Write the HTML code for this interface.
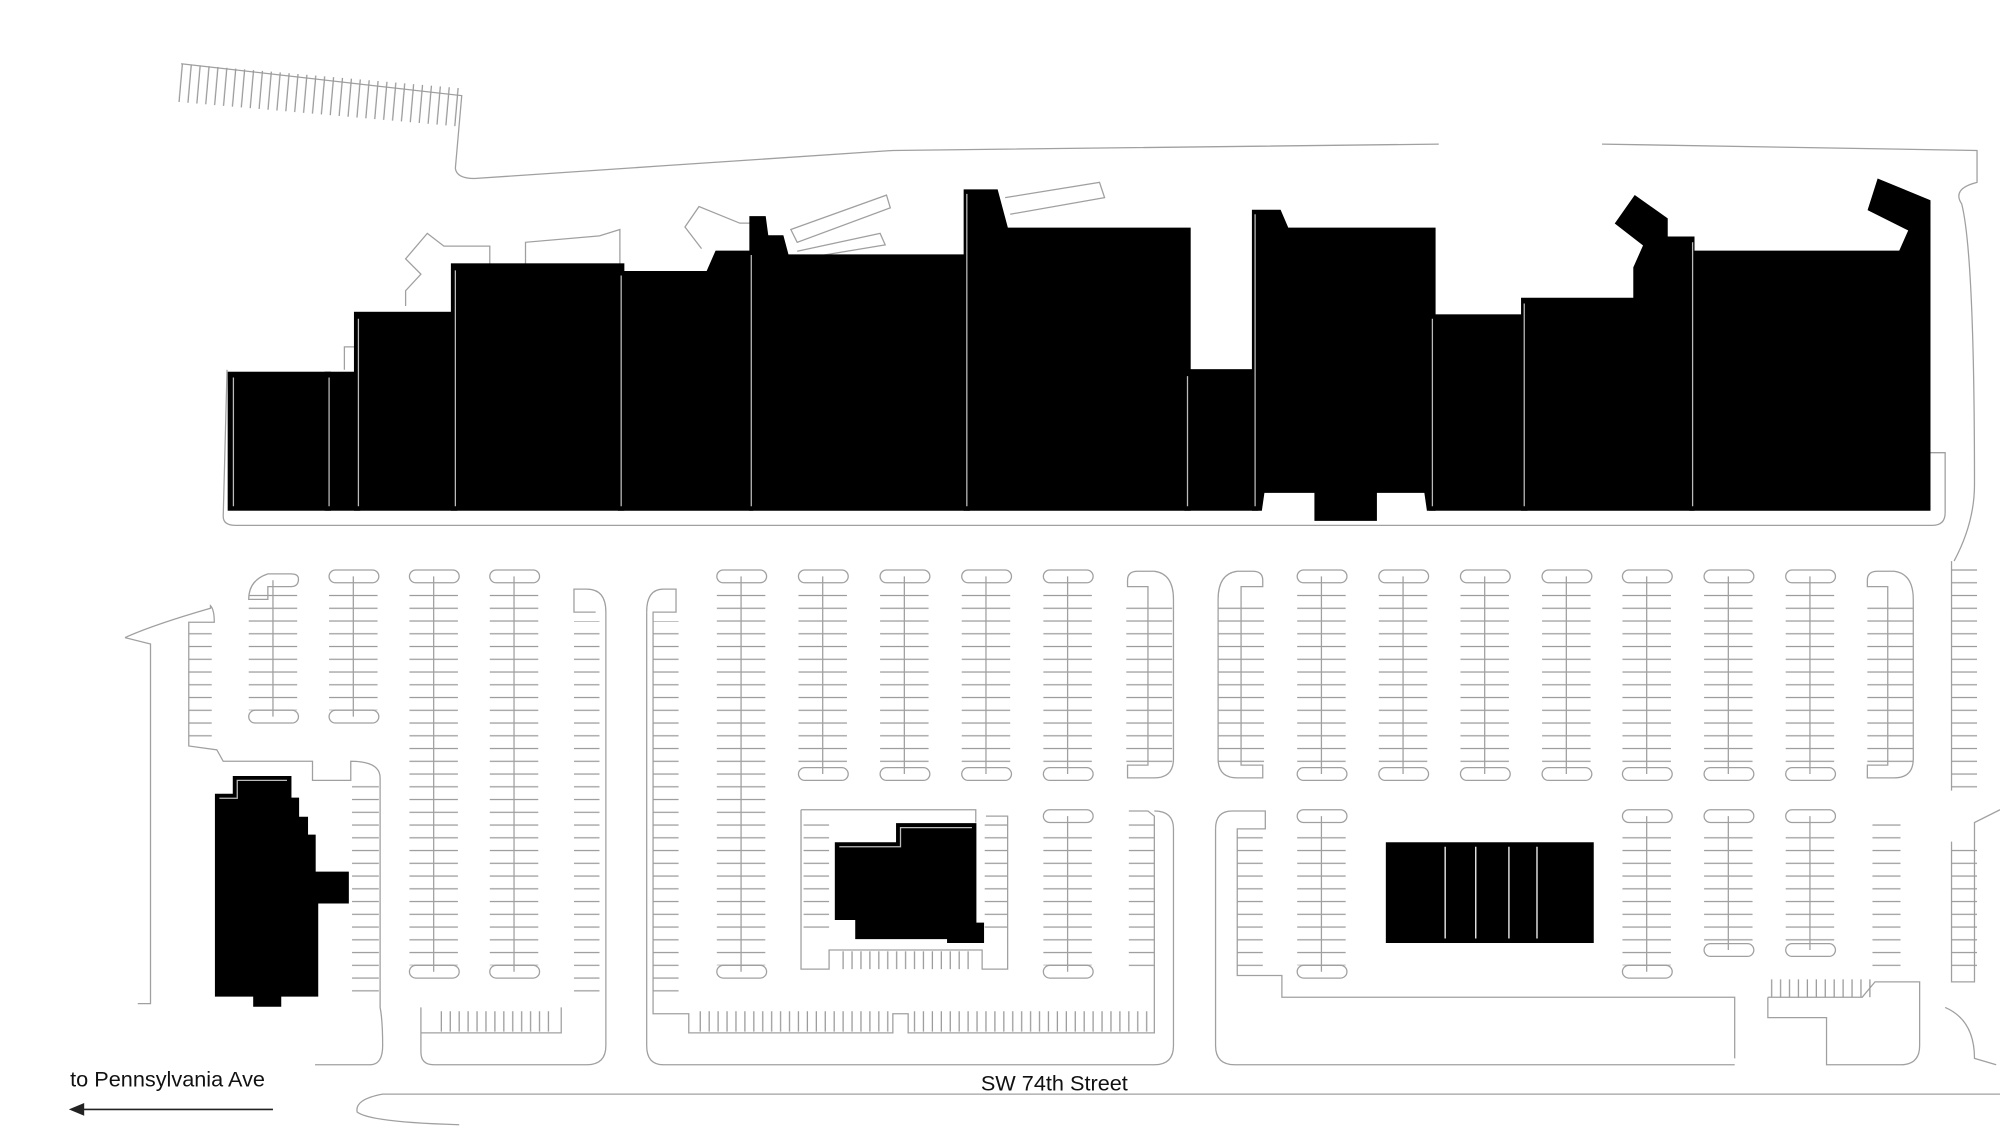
<!DOCTYPE html>
<html><head><meta charset="utf-8"><style>
html,body{margin:0;padding:0;background:#fff;}
svg{display:block;}
text{font-family:"Liberation Sans",sans-serif;fill:#111;}
</style></head><body>
<svg width="2000" height="1126" viewBox="0 0 1568 883" preserveAspectRatio="none" xmlns="http://www.w3.org/2000/svg">
<defs>
<pattern id="tk" patternUnits="userSpaceOnUse" width="100" height="10" y="2">
<line x1="0" y1="5" x2="100" y2="5" stroke="#9a9a9a" stroke-width="1"/>
</pattern>
<pattern id="tkv" patternUnits="userSpaceOnUse" width="7" height="100">
<line x1="3" y1="0" x2="3" y2="100" stroke="#9a9a9a" stroke-width="1"/>
</pattern>
</defs>
<g fill="none" stroke="#a0a0a0" stroke-width="1">
<path d="M142 50 L362 75 L357 132 Q358 140 372 140 L520 130 L700 118 L1128 113"/>
<path d="M1256 113 L1550 118 L1550 143 Q1530 148 1538 160 Q1548 200 1548 380 Q1548 410 1532 440"/>
<path d="M178 290 L175 405 Q175 412 185 412 L1515 412 Q1525 412 1525 402 L1525 355 L1510 355"/>
<path d="M318 240 L318 228 L330 215 L318 203 L335 183 L348 193 L384 193 L384 210"/>
<path d="M412 210 L412 190 L470 185 L486 180 L486 210"/>
<path d="M550 195 L537 178 L548 162 L580 175 L590 175"/>
<path d="M620 180 L695 153 L698 163 L625 190 Z"/>
<path d="M625 197 L690 183 L694 192 L628 203"/>
<path d="M788 155 L862 143 L866 155 L792 168"/>
<path d="M270 290 L270 272 L278 272"/>
<path d="M98 500 Q120 490 165 477 L165 475 Q168 478 168 488 L148 488 L148 585 L170 588 L175 597 L245 597 L245 612 L275 612 L275 597 Q298 597 298 610 L298 790 Q300 800 300 820 Q300 835 290 835 L247 835"/>
<path d="M98 500 L118 505 L118 787 L108 787"/>
<path d="M330 790 L330 825 Q330 835 340 835 L460 835 Q475 835 475 820 L475 480 Q475 462 460 462 L450 462 L450 480 L467 480"/>
<path d="M440 790 L440 810 L330 810"/>
<path d="M507 480 Q507 462 520 462 L530 462 L530 480 L512 480 L512 795 L540 795 L540 810 L700 810 L700 795 L712 795 L712 810 L905 810 L905 640 L900 636 L885 636"/>
<path d="M507 480 L507 820 Q507 835 520 835 L905 835 Q920 835 920 820 L920 650 Q920 636 905 636"/>
<path d="M628 635 L765 635 L765 645 M628 635 L628 760 L650 760 L650 745 L770 745 L770 760 L790 760 L790 640 L773 640"/>
<path d="M953 650 Q953 636 966 636 L992 636 L992 650 L970 650 L970 765 L1005 765 L1005 782 L1360 782 L1360 830"/>
<path d="M953 650 L953 820 Q953 835 968 835 L1360 835"/>
<path d="M1386 782 L1386 798 L1432 798 L1432 835 L1490 835 Q1505 835 1505 820 L1505 770 L1470 770 L1460 782 L1386 782"/>
<path d="M1525 790 Q1548 800 1548 830 L1565 835"/>
<path d="M1568 635 L1548 645 L1548 770 L1530 770 L1530 660"/>
<path d="M1568 858 L300 858 Q278 862 280 872 Q290 880 360 882"/>
<path d="M1530 440 L1530 620"/>
</g>
<g stroke="none">
<rect x="142" y="50" width="220" height="30" fill="url(#tkv)" transform="rotate(5 142 50)"/>
<rect x="148" y="492" width="18" height="86" fill="url(#tk)"/>
<rect x="276" y="612" width="21" height="170" fill="url(#tk)"/>
<rect x="450" y="487" width="20" height="295" fill="url(#tk)"/>
<rect x="512" y="487" width="20" height="295" fill="url(#tk)"/>
<rect x="345" y="793" width="90" height="16" fill="url(#tkv)"/>
<rect x="545" y="793" width="155" height="16" fill="url(#tkv)"/>
<rect x="716" y="793" width="185" height="16" fill="url(#tkv)"/>
<rect x="655" y="746" width="110" height="14" fill="url(#tkv)"/>
<rect x="885" y="645" width="20" height="120" fill="url(#tk)"/>
<rect x="772" y="645" width="18" height="90" fill="url(#tk)"/>
<rect x="630" y="645" width="20" height="90" fill="url(#tk)"/>
<rect x="970" y="650" width="20" height="115" fill="url(#tk)"/>
<rect x="1530" y="445" width="20" height="175" fill="url(#tk)"/>
<rect x="1530" y="665" width="20" height="100" fill="url(#tk)"/>
<rect x="1468" y="645" width="22" height="120" fill="url(#tk)"/>
<rect x="1388" y="768" width="80" height="14" fill="url(#tkv)"/>
<rect x="883" y="475" width="36" height="125" fill="url(#tk)"/>
<rect x="955" y="475" width="36" height="125" fill="url(#tk)"/>
<rect x="1464" y="475" width="36" height="125" fill="url(#tk)"/>
<rect x="195" y="462" width="38" height="95" fill="url(#tk)"/>
<rect x="258" y="462" width="38" height="95" fill="url(#tk)"/>
<rect x="321" y="462" width="38" height="295" fill="url(#tk)"/>
<rect x="384" y="462" width="38" height="295" fill="url(#tk)"/>
<rect x="562" y="462" width="38" height="295" fill="url(#tk)"/>
<rect x="626" y="462" width="38" height="140" fill="url(#tk)"/>
<rect x="690" y="462" width="38" height="140" fill="url(#tk)"/>
<rect x="754" y="462" width="38" height="140" fill="url(#tk)"/>
<rect x="818" y="462" width="38" height="140" fill="url(#tk)"/>
<rect x="1017" y="462" width="38" height="140" fill="url(#tk)"/>
<rect x="1081" y="462" width="38" height="140" fill="url(#tk)"/>
<rect x="1145" y="462" width="38" height="140" fill="url(#tk)"/>
<rect x="1209" y="462" width="38" height="140" fill="url(#tk)"/>
<rect x="1272" y="462" width="38" height="140" fill="url(#tk)"/>
<rect x="1336" y="462" width="38" height="140" fill="url(#tk)"/>
<rect x="1400" y="462" width="38" height="140" fill="url(#tk)"/>
<rect x="818" y="650" width="38" height="107" fill="url(#tk)"/>
<rect x="1017" y="650" width="38" height="107" fill="url(#tk)"/>
<rect x="1272" y="650" width="38" height="107" fill="url(#tk)"/>
<rect x="1336" y="650" width="38" height="90" fill="url(#tk)"/>
<rect x="1400" y="650" width="38" height="90" fill="url(#tk)"/>
</g>
<g fill="none" stroke="#a0a0a0">
<path d="M884 455 Q884 448 892 448 L905 448 Q920 450 920 470 L920 595 Q920 610 905 610 L884 610 L884 600 L900 600 L900 460 L884 460 Z"/>
<path d="M990 455 Q990 448 982 448 L970 448 Q955 450 955 470 L955 595 Q955 610 970 610 L990 610 L990 600 L973 600 L973 460 L990 460 Z"/>
<path d="M1464 455 Q1464 448 1472 448 L1485 448 Q1500 450 1500 470 L1500 595 Q1500 610 1485 610 L1464 610 L1464 600 L1480 600 L1480 460 L1464 460 Z"/>
<path d="M195 470 Q195 455 210 450 L228 450 Q234 450 234 454 Q234 460 228 460 L210 460 L210 470 Z"/>
<path d="M214 455 V562 M277 452 V562 M340 452 V762 M403 452 V762 M581 452 V762 M645 452 V607 M709 452 V607 M773 452 V607 M837 452 V607 M1036 452 V607 M1100 452 V607 M1164 452 V607 M1228 452 V607 M1291 452 V607 M1355 452 V607 M1419 452 V607 M837 640 V762 M1036 640 V762 M1291 640 V762 M1355 640 V745 M1419 640 V745"/>
<rect x="258" y="447" width="39" height="10" rx="5"/>
<rect x="321" y="447" width="39" height="10" rx="5"/>
<rect x="384" y="447" width="39" height="10" rx="5"/>
<rect x="562" y="447" width="39" height="10" rx="5"/>
<rect x="626" y="447" width="39" height="10" rx="5"/>
<rect x="690" y="447" width="39" height="10" rx="5"/>
<rect x="754" y="447" width="39" height="10" rx="5"/>
<rect x="818" y="447" width="39" height="10" rx="5"/>
<rect x="1017" y="447" width="39" height="10" rx="5"/>
<rect x="1081" y="447" width="39" height="10" rx="5"/>
<rect x="1145" y="447" width="39" height="10" rx="5"/>
<rect x="1209" y="447" width="39" height="10" rx="5"/>
<rect x="1272" y="447" width="39" height="10" rx="5"/>
<rect x="1336" y="447" width="39" height="10" rx="5"/>
<rect x="1400" y="447" width="39" height="10" rx="5"/>
<rect x="195" y="557" width="39" height="10" rx="5"/>
<rect x="258" y="557" width="39" height="10" rx="5"/>
<rect x="321" y="757" width="39" height="10" rx="5"/>
<rect x="384" y="757" width="39" height="10" rx="5"/>
<rect x="562" y="757" width="39" height="10" rx="5"/>
<rect x="626" y="602" width="39" height="10" rx="5"/>
<rect x="690" y="602" width="39" height="10" rx="5"/>
<rect x="754" y="602" width="39" height="10" rx="5"/>
<rect x="818" y="602" width="39" height="10" rx="5"/>
<rect x="1017" y="602" width="39" height="10" rx="5"/>
<rect x="1081" y="602" width="39" height="10" rx="5"/>
<rect x="1145" y="602" width="39" height="10" rx="5"/>
<rect x="1209" y="602" width="39" height="10" rx="5"/>
<rect x="1272" y="602" width="39" height="10" rx="5"/>
<rect x="1336" y="602" width="39" height="10" rx="5"/>
<rect x="1400" y="602" width="39" height="10" rx="5"/>
<rect x="818" y="635" width="39" height="10" rx="5"/>
<rect x="1017" y="635" width="39" height="10" rx="5"/>
<rect x="1272" y="635" width="39" height="10" rx="5"/>
<rect x="1336" y="635" width="39" height="10" rx="5"/>
<rect x="1400" y="635" width="39" height="10" rx="5"/>
<rect x="818" y="757" width="39" height="10" rx="5"/>
<rect x="1017" y="757" width="39" height="10" rx="5"/>
<rect x="1272" y="757" width="39" height="10" rx="5"/>
<rect x="1336" y="740" width="39" height="10" rx="5"/>
<rect x="1400" y="740" width="39" height="10" rx="5"/>
</g>
<g fill="#000" stroke="#000" stroke-width="3">
<rect x="180" y="293" width="78" height="106"/>
<rect x="256" y="293" width="25" height="106"/>
<rect x="279" y="246" width="78" height="153"/>
<rect x="355" y="208" width="133" height="191"/>
<path d="M486 214 L555 214 L562 198 L589 198 L589 399 L486 399 Z"/>
<path d="M589 171 L599 171 L601 186 L613 186 L617 201 L759 201 L759 399 L589 399 Z"/>
<path d="M757 150 L781 150 L789 180 L932 180 L932 399 L757 399 Z"/>
<rect x="930" y="291" width="55" height="108"/>
<path d="M983 166 L1003 166 L1009 180 L1124 180 L1124 399 L1120 399 L1118 385 L1078 385 L1078 407 L1032 407 L1032 385 L990 385 L988 399 L983 399 Z"/>
<rect x="1122" y="248" width="74" height="151"/>
<path d="M1194 235 L1282 235 L1282 210 L1290 192 L1268 175 L1282 155 L1306 172 L1306 187 L1327 187 L1327 399 L1194 399 Z"/>
<path d="M1326 198 L1490 198 L1498 180 L1466 164 L1473 142 L1512 158 L1512 399 L1326 399 Z"/>
<path d="M170 624 L184 624 L184 610 L227 610 L227 627 L233 627 L233 642 L240 642 L240 656 L246 656 L246 685 L272 685 L272 707 L248 707 L248 780 L219 780 L219 788 L200 788 L200 780 L170 780 Z"/>
<path d="M656 662 L704 662 L704 647 L764 647 L764 725 L770 725 L770 738 L744 738 L744 735 L672 735 L672 720 L656 720 Z"/>
<rect x="1088" y="662" width="160" height="76"/>
</g>
<g fill="none" stroke="#bbb" stroke-width="1">
<path d="M183 296 V397 M258 296 V397 M281 250 V397 M357 212 V397 M487 216 V397 M589 200 V397 M758 152 V397 M931 295 V397 M984 168 V397 M1123 250 V397 M1195 238 V397 M1327 190 V397"/>
<path d="M172 626 L186 626 L186 612 L225 612"/>
<path d="M658 664 L706 664 L706 649 L762 649"/>
</g>
<path d="M1133 664 V736 M1157 664 V736 M1183 664 V736 M1205 664 V736" stroke="#fff" stroke-width="1"/>
<text x="55" y="852" font-size="17">to Pennsylvania Ave</text>
<text x="769" y="855" font-size="17">SW 74th Street</text>
<line x1="62" y1="870" x2="214" y2="870" stroke="#222" stroke-width="1.2"/>
<path d="M54 870 L66 865 L66 875 Z" fill="#222"/>
</svg>
</body></html>
